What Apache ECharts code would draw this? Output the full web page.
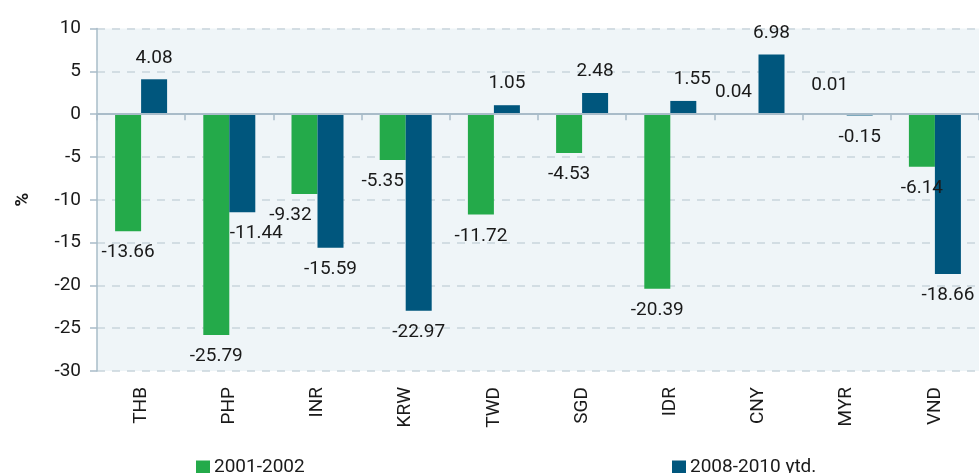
<!DOCTYPE html>
<html>
<head>
<meta charset="utf-8">
<script src="https://cdn.jsdelivr.net/npm/echarts@6/dist/echarts.min.js"></script>
<style>
    html, body { margin: 0; padding: 0; background: #fff; }
    #bar_chart { width: 979px; height: 473px; }
</style>
</head>
<body>
<div id="bar_chart"></div>
<script>
    // currencies
    const categories = ['THB', 'PHP', 'INR', 'KRW', 'TWD', 'SGD', 'IDR', 'CNY', 'MYR', 'VND'];
    // % change
    const data2001 = [-13.66, -25.79, -9.32, -5.35, -11.72, -4.53, -20.39, 0.04, 0.01, -6.14];
    const data2008 = [4.08, -11.44, -15.59, -22.97, 1.05, 2.48, 1.55, 6.98, -0.15, -18.66];
    const yTicks = [10, 5, 0, -5, -10, -15, -20, -25, -30];

    // label nudges so they sit like the original (px)
    const nudge2001 = {INR: [-14, 0], KRW: [-10, 0], CNY: [-12, 0], MYR: [-4, -7]};
    const nudge2008 = {PHP: [14, 0], IDR: [9, 0]};

    const FONT = 'Roboto, "DejaVu Sans Condensed", sans-serif';
    const FS = 19;
    const AXIS_COLOR = '#a9bcc9';

    function buildData(values, nudge) {
        return values.map((v, i) => ({
            value: v,
            label: {
                position: v >= 0 ? 'top' : 'bottom',
                offset: nudge[categories[i]] || [0, 0]
            }
        }));
    }

    const bar_chart = echarts.init(document.getElementById('bar_chart'));
    bar_chart.setOption({
        animation: false,
        textStyle: { fontFamily: FONT },
        grid: {
            left: 97,
            right: -3,
            top: 28.6,
            bottom: 102,
            show: true,
            backgroundColor: '#eff5f8',
            borderWidth: 0
        },
        legend: [
            {
                data: ['2001-2002'],
                left: 191,
                top: 453,
                icon: 'rect',
                itemWidth: 14,
                itemHeight: 14,
                textStyle: { fontFamily: FONT, fontSize: FS, color: '#1a1a1a', padding: [0, 0, 0, -1] }
            },
            {
                data: ['2008-2010 ytd.'],
                left: 667,
                top: 453,
                icon: 'rect',
                itemWidth: 14,
                itemHeight: 14,
                textStyle: { fontFamily: FONT, fontSize: FS, color: '#1a1a1a', padding: [0, 0, 0, -1] }
            }
        ],
        xAxis: [
            {
                type: 'category',
                data: categories,
                position: 'bottom',
                axisLine: { show: false, onZero: false },
                axisTick: { show: false },
                axisLabel: {
                    rotate: 90,
                    margin: 16,
                    fontFamily: FONT,
                    fontSize: FS,
                    color: '#1a1a1a'
                }
            },
            {
                // zero line with ticks between categories
                type: 'category',
                data: categories,
                position: 'top',
                z: 3,
                axisLine: { show: true, onZero: true, lineStyle: { color: AXIS_COLOR, width: 2 } },
                axisTick: { show: true, inside: true, length: 6, lineStyle: { color: AXIS_COLOR, width: 1.5 } },
                axisLabel: { show: false }
            }
        ],
        yAxis: {
            type: 'value',
            min: -30,
            max: 10,
            interval: 5,
            name: '%',
            nameLocation: 'middle',
            nameRotate: 90,
            nameGap: 64,
            nameTextStyle: { fontFamily: FONT, fontSize: FS, fontWeight: 'bold', color: '#1a1a1a' },
            axisLine: { show: true, lineStyle: { color: AXIS_COLOR, width: 1.5 } },
            axisTick: { show: true, length: 7, lineStyle: { color: AXIS_COLOR, width: 1.5 } },
            axisLabel: {
                margin: 16,
                fontFamily: FONT,
                fontSize: FS,
                color: '#1a1a1a',
                formatter: v => yTicks.indexOf(v) >= 0 ? String(v) : ''
            },
            splitLine: {
                show: true,
                lineStyle: { color: '#c9d5dc', type: [8, 7], width: 1.5 }
            }
        },
        series: [
            {
                name: '2001-2002',
                type: 'bar',
                barWidth: 26,
                barGap: '0%',
                itemStyle: { color: '#24aa4a' },
                label: {
                    show: true,
                    distance: 12,
                    fontFamily: FONT,
                    fontSize: FS,
                    color: '#1a1a1a',
                    formatter: p => p.value.toFixed(2)
                },
                data: buildData(data2001, nudge2001)
            },
            {
                name: '2008-2010 ytd.',
                type: 'bar',
                barWidth: 26,
                barGap: '0%',
                itemStyle: { color: '#00567d' },
                label: {
                    show: true,
                    distance: 12,
                    fontFamily: FONT,
                    fontSize: FS,
                    color: '#1a1a1a',
                    formatter: p => p.value.toFixed(2)
                },
                data: buildData(data2008, nudge2008)
            }
        ]
    });
</script>
</body>
</html>
